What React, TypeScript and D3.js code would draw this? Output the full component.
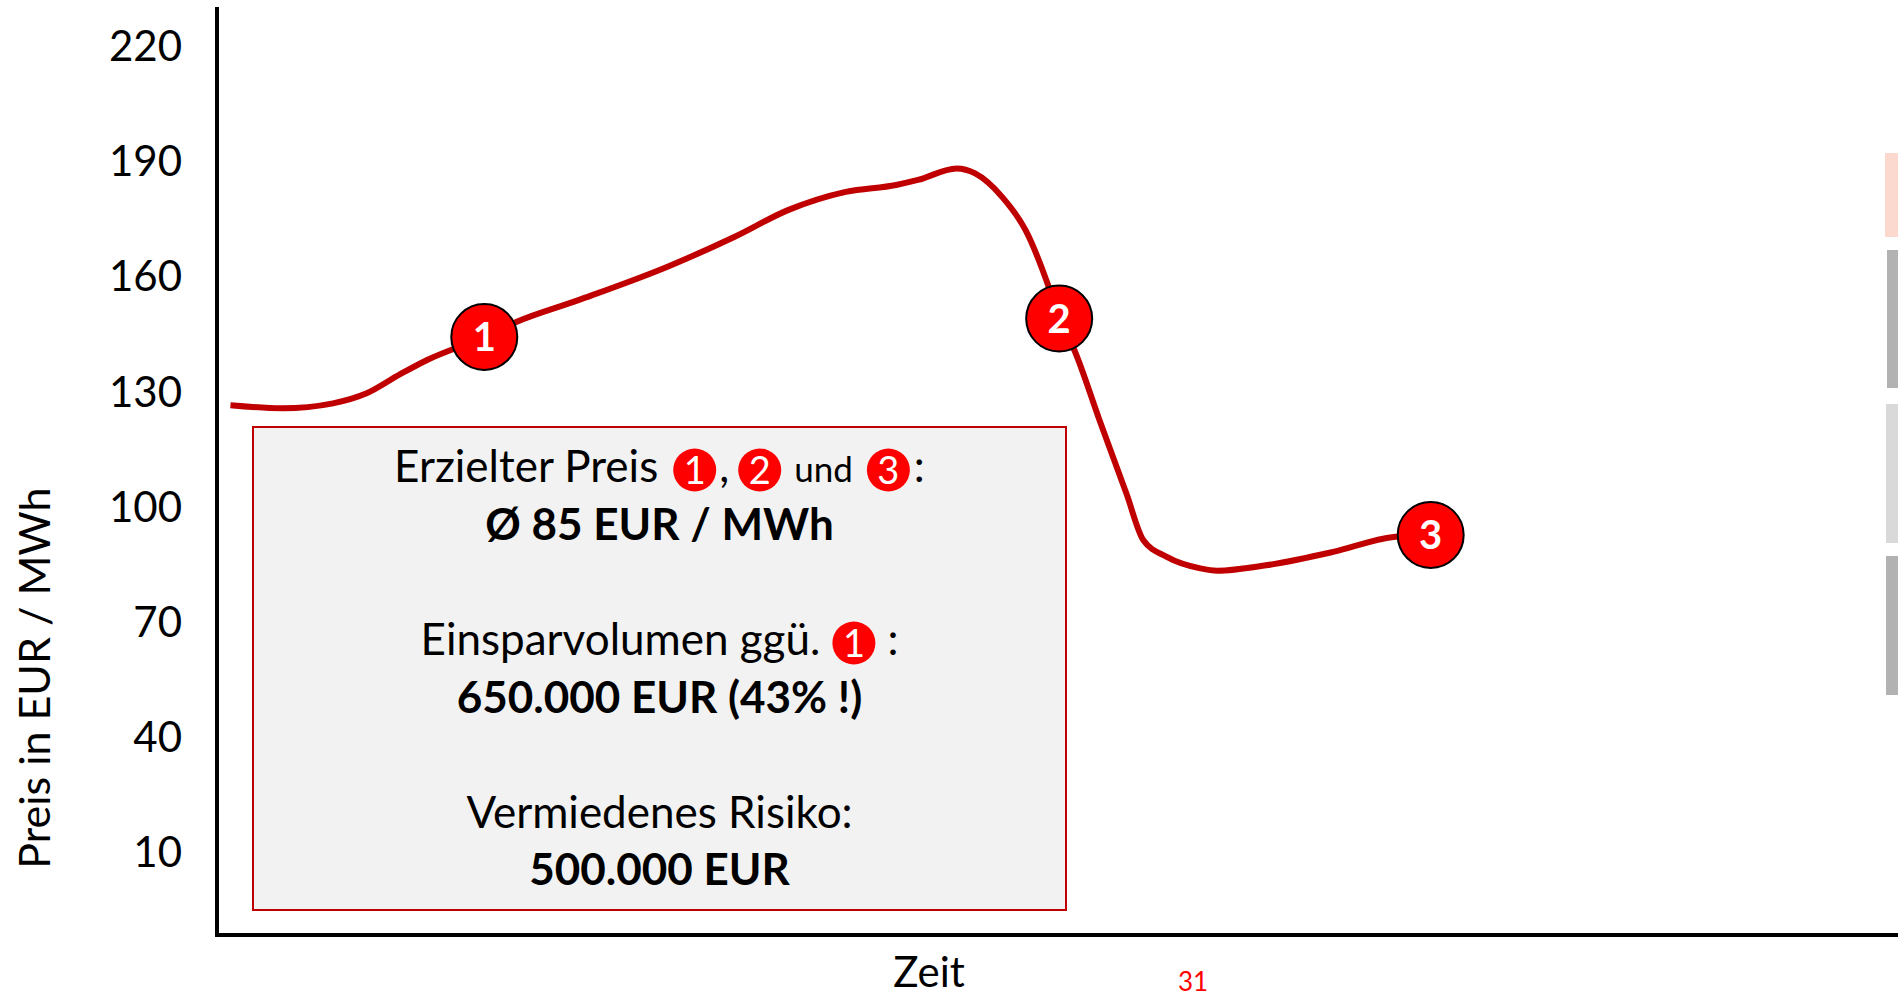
import React, { useEffect, useRef } from "react";
import * as d3 from "d3";

// ---- data ----
const timeIdx = [0.8, 3.9, 6.9, 8.9, 10.9, 12.5, 15.9, 17.8, 21.5, 26.8, 30.8, 34.0, 37.4, 40.4, 41.7, 44.0, 45.1, 46.7, 48.1, 49.4, 50.1, 51.0, 52.5, 54.1, 55.1, 56.5, 58.5, 59.5, 62.4, 66.4, 70.0, 72.2];
const prices = [126.4, 125.6, 126.9, 129.5, 134.5, 138.2, 144.2, 148.1, 153.8, 162.5, 170.3, 177.3, 182.0, 183.8, 185.1, 188.1, 186.8, 180.7, 172.0, 158.2, 149.0, 140.8, 122.5, 103.4, 91.3, 86.9, 83.9, 83.3, 84.7, 88.2, 92.1, 92.6];
const markerLabels = ["1", "2", "3"];
const markerTimes = [15.9, 50.1, 72.2];
const markerPrices = [144.2, 149.0, 92.6];
const yTicks = [10, 40, 70, 100, 130, 160, 190, 220];
const yLabel = "Preis in EUR / MWh";
const xLabel = "Zeit";
const pageNumber = "31";
const sideBarColors = ["#fcd9cf", "#b2b2b2", "#d9d9d9", "#b2b2b2"];

// layout of decorative side bars (pixels)
const sideBarLayout = [
  { x: 1885, top: 153, bottom: 237 },
  { x: 1887, top: 250, bottom: 388 },
  { x: 1886, top: 404, bottom: 543 },
  { x: 1886, top: 556, bottom: 695 },
];

const W = 1898;
const H = 997;
const FONT = "Lato, 'Open Sans', sans-serif";
const RED = "#c00000";
const BOX_FONT = 44;

export default function App() {
  const ref = useRef<SVGSVGElement | null>(null);

  useEffect(() => {
    const svg = d3.select(ref.current);
    svg.selectAll("*").remove();

    const x = d3.scaleLinear().domain([0, 100]).range([217, 1898]);
    const y = d3.scaleLinear().domain([10, 220]).range([852, 46]);
    const axisX = 217;
    const axisTop = 7;
    const axisBottom = 935;

    // right side bars
    svg.append("g").selectAll("rect").data(sideBarColors).join("rect")
      .attr("x", (_d, i) => sideBarLayout[i].x).attr("width", (_d, i) => W - sideBarLayout[i].x)
      .attr("y", (_d, i) => sideBarLayout[i].top)
      .attr("height", (_d, i) => sideBarLayout[i].bottom - sideBarLayout[i].top)
      .attr("fill", (d) => d);

    // axes
    svg.append("line").attr("x1", axisX).attr("x2", axisX).attr("y1", axisTop).attr("y2", axisBottom + 2)
      .attr("stroke", "#000").attr("stroke-width", 4);
    svg.append("line").attr("x1", axisX - 2).attr("x2", W).attr("y1", axisBottom).attr("y2", axisBottom)
      .attr("stroke", "#000").attr("stroke-width", 4);

    svg.append("g").selectAll("text").data(yTicks).join("text")
      .attr("x", 182).attr("y", (d) => y(d)).attr("dy", "0.36em")
      .attr("text-anchor", "end").attr("font-family", FONT).attr("font-size", 42).attr("fill", "#000")
      .text((d) => String(d));

    svg.append("text").attr("transform", "translate(50,678) rotate(-90)")
      .attr("text-anchor", "middle").attr("font-family", FONT).attr("font-size", 43).attr("fill", "#000")
      .text(yLabel);

    svg.append("text").attr("x", 929).attr("y", 987).attr("text-anchor", "middle")
      .attr("font-family", FONT).attr("font-size", 42).attr("fill", "#000").text(xLabel);

    svg.append("text").attr("x", 1193).attr("y", 991).attr("text-anchor", "middle")
      .attr("font-family", FONT).attr("font-size", 26).attr("fill", "#ff0000").text(pageNumber);

    // info box
    const box = { x: 253, y: 427, w: 813, h: 483 };
    svg.append("rect").attr("x", box.x).attr("y", box.y).attr("width", box.w).attr("height", box.h)
      .attr("fill", "#f2f2f2").attr("stroke", RED).attr("stroke-width", 2);
    const cx = box.x + box.w / 2;

    type Seg = { t: "text"; s: string; size: number; weight?: number } | { t: "marker"; s: string } | { t: "gap"; w: number };
    const inlineLine = (baseline: number, segs: Seg[]) => {
      const g = svg.append("g");
      const items: { seg: Seg; el: any; w: number }[] = [];
      segs.forEach((seg) => {
        if (seg.t === "text") {
          const el = g.append("text").attr("y", baseline).attr("font-family", FONT)
            .attr("font-size", seg.size).attr("font-weight", seg.weight || 400).attr("fill", "#000")
            .style("white-space", "pre").text(seg.s);
          const w = (el.node() as SVGTextElement).getComputedTextLength();
          items.push({ seg, el, w });
        } else if (seg.t === "marker") {
          const mg = g.append("g");
          mg.append("circle").attr("r", 21.5).attr("cy", -12).attr("fill", "#ff0000");
          mg.append("text").attr("y", -12).attr("dy", "0.36em").attr("text-anchor", "middle")
            .attr("font-family", FONT).attr("font-size", 38).attr("fill", "#fff").text(seg.s);
          items.push({ seg, el: mg, w: 43 });
        } else {
          items.push({ seg, el: null, w: seg.w });
        }
      });
      const total = d3.sum(items, (d) => d.w);
      let cur = cx - total / 2;
      items.forEach((it) => {
        if (it.seg.t === "text") it.el.attr("x", cur);
        else if (it.seg.t === "marker") it.el.attr("transform", `translate(${cur + 21.5},${baseline})`);
        cur += it.w;
      });
    };

    inlineLine(482, [
      { t: "text", s: "Erzielter Preis", size: BOX_FONT },
      { t: "gap", w: 15 },
      { t: "marker", s: "1" },
      { t: "gap", w: 3 },
      { t: "text", s: ",", size: BOX_FONT },
      { t: "gap", w: 9 },
      { t: "marker", s: "2" },
      { t: "gap", w: 13 },
      { t: "text", s: "und", size: 35 },
      { t: "gap", w: 14 },
      { t: "marker", s: "3" },
      { t: "gap", w: 4 },
      { t: "text", s: ":", size: BOX_FONT },
    ]);
    const centered = (txt: string, baseline: number, weight: number) =>
      svg.append("text").attr("x", cx).attr("y", baseline).attr("text-anchor", "middle")
        .attr("font-family", FONT).attr("font-size", BOX_FONT).attr("font-weight", weight).attr("fill", "#000").text(txt);
    centered("Ø 85 EUR / MWh", 540, 700);
    inlineLine(655, [
      { t: "text", s: "Einsparvolumen ggü.", size: BOX_FONT },
      { t: "gap", w: 12 },
      { t: "marker", s: "1" },
      { t: "gap", w: 12 },
      { t: "text", s: ":", size: BOX_FONT },
    ]);
    centered("650.000 EUR (43% !)", 713, 700);
    centered("Vermiedenes Risiko:", 828, 400);
    centered("500.000 EUR", 885, 700);

    // price curve
    const data = timeIdx.map((t, i) => ({ t, v: prices[i] }));
    const line = d3.line<{ t: number; v: number }>().x((d) => x(d.t)).y((d) => y(d.v)).curve(d3.curveMonotoneX);
    svg.append("path").datum(data).attr("d", line).attr("fill", "none")
      .attr("stroke", RED).attr("stroke-width", 6).attr("stroke-linejoin", "round");

    // numbered markers
    const mk = svg.append("g").selectAll("g").data(markerLabels).join("g")
      .attr("transform", (_d, i) => `translate(${x(markerTimes[i])},${y(markerPrices[i])})`);
    mk.append("circle").attr("r", 33).attr("fill", "#ff0000").attr("stroke", "#000").attr("stroke-width", 2);
    mk.append("text").attr("text-anchor", "middle").attr("dy", "0.36em")
      .attr("font-family", FONT).attr("font-size", 40).attr("font-weight", 700).attr("fill", "#fff")
      .text((d) => d);
  }, []);

  return (
    <svg ref={ref} width={W} height={H} style={{ position: "absolute", left: 0, top: 0, display: "block", background: "#fff" }} />
  );
}
